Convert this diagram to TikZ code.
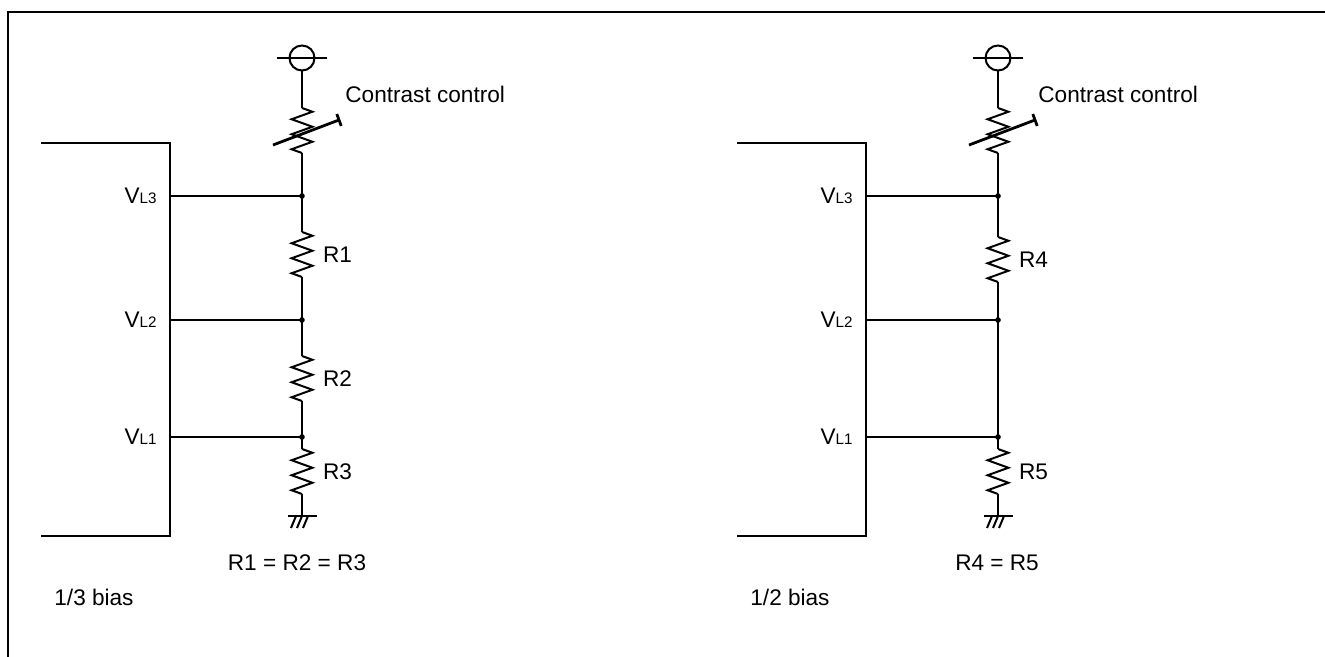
\documentclass[tikz,border=0pt]{standalone}
\usepackage{fontspec}
\setmainfont{Liberation Sans}
\usetikzlibrary{positioning,decorations.pathmorphing}
\tikzset{
    frame/.style={line width=1.2pt},
    wire/.style={line width=1pt},
    resist/.style={wire, decorate, decoration={zigzag, segment length=7.5pt, amplitude=5.2pt}},
    knob/.style={line width=1.4pt},
    pwr/.style={draw, wire, circle, minimum size=12.5pt, inner sep=0pt},
    jdot/.style={circle, fill, inner sep=0pt, minimum size=2.8pt},
    lbl/.style={font=\fontsize{11.3}{13}\selectfont, inner sep=0pt},
}
\newcommand{\vlev}[1]{V{\fontsize{7.6}{8}\selectfont L#1}}
\begin{document}
\begin{tikzpicture}[x=0.5pt,y=-0.5pt]
\useasboundingbox (0,0) rectangle (1325,657);
\draw[frame] (8,657) -- (8,12) -- (1325,12);

% 1/3 bias
\draw[wire] (41,143) -- (170,143) -- (170,536) -- (41,536);
\coordinate (icL3) at (170,196);
\coordinate (icL2) at (170,320);
\coordinate (icL1) at (170,437);
\node[lbl, left=6.5pt of icL3] (vL3) {\vlev{3}};
\node[lbl, left=6.5pt of icL2] (vL2) {\vlev{2}};
\node[lbl, left=6.5pt of icL1] (vL1) {\vlev{1}};
\node[pwr] (pwrL) at (302,58) {};
\draw[wire] ([xshift=-5.8pt]pwrL.west) -- ([xshift=5.8pt]pwrL.east);
\coordinate (vrLa) at (302,108);
\coordinate (vrLb) at (302,153);
\node[jdot] (jL3) at (302,196) {};
\node[jdot] (jL2) at (302,320) {};
\node[jdot] (jL1) at (302,437) {};
\coordinate (r1a) at (302,232);
\coordinate (r1b) at (302,277);
\coordinate (r2a) at (302,356);
\coordinate (r2b) at (302,401);
\coordinate (r3a) at (302,449);
\coordinate (r3b) at (302,494);
\coordinate (gndL) at (302,516);
\draw[wire] (pwrL.south) -- (vrLa);
\draw[resist] (vrLa) -- (vrLb);
\draw[wire] (vrLb) -- (jL3.center) -- (r1a);
\draw[resist] (r1a) -- node[lbl, right=10pt] (R1) {R1} (r1b);
\draw[wire] (r1b) -- (jL2.center) -- (r2a);
\draw[resist] (r2a) -- node[lbl, right=10pt] (R2) {R2} (r2b);
\draw[wire] (r2b) -- (jL1.center) -- (r3a);
\draw[resist] (r3a) -- node[lbl, right=10pt] (R3) {R3} (r3b);
\draw[wire] (r3b) -- (gndL);
\draw[wire] (icL3) -- (jL3.center);
\draw[wire] (icL2) -- (jL2.center);
\draw[wire] (icL1) -- (jL1.center);
% contrast knob and ground
\coordinate (knLa) at (273,145);
\coordinate (knLb) at (339,120);
\draw[knob] (knLa) -- (knLb) ++(-2.2,-6) -- ++(4.4,12);
\draw[wire] (gndL) ++(-14,0) -- ++(29,0);
\draw[wire] (gndL) ++(-6,0) -- ++(-5,12);
\draw[wire] (gndL) ++(0,0) -- ++(-5,12);
\draw[wire] (gndL) ++(6,0) -- ++(-5,12);
\node[lbl, anchor=west] (ccL) at (345,94) {Contrast control};
\node[lbl] (eqL) at (297,563) {R1 = R2 = R3};
\node[lbl, anchor=west] (biasL) at (54,597) {1/3 bias};

% 1/2 bias
\draw[wire] (737,143) -- (866,143) -- (866,536) -- (737,536);
\coordinate (icR3) at (866,196);
\coordinate (icR2) at (866,320);
\coordinate (icR1) at (866,437);
\node[lbl, left=6.5pt of icR3] (vR3) {\vlev{3}};
\node[lbl, left=6.5pt of icR2] (vR2) {\vlev{2}};
\node[lbl, left=6.5pt of icR1] (vR1) {\vlev{1}};
\node[pwr] (pwrR) at (998,58) {};
\draw[wire] ([xshift=-5.8pt]pwrR.west) -- ([xshift=5.8pt]pwrR.east);
\coordinate (vrRa) at (998,108);
\coordinate (vrRb) at (998,153);
\node[jdot] (jR3) at (998,196) {};
\node[jdot] (jR2) at (998,320) {};
\node[jdot] (jR1) at (998,437) {};
\coordinate (r4a) at (998,237);
\coordinate (r4b) at (998,282);
\coordinate (r5a) at (998,449);
\coordinate (r5b) at (998,494);
\coordinate (gndR) at (998,516);
\draw[wire] (pwrR.south) -- (vrRa);
\draw[resist] (vrRa) -- (vrRb);
\draw[wire] (vrRb) -- (jR3.center) -- (r4a);
\draw[resist] (r4a) -- node[lbl, right=10pt] (R4) {R4} (r4b);
\draw[wire] (r4b) -- (jR2.center) -- (jR1.center) -- (r5a);
\draw[resist] (r5a) -- node[lbl, right=10pt] (R5) {R5} (r5b);
\draw[wire] (r5b) -- (gndR);
\draw[wire] (icR3) -- (jR3.center);
\draw[wire] (icR2) -- (jR2.center);
\draw[wire] (icR1) -- (jR1.center);
% contrast knob and ground
\coordinate (knRa) at (969,145);
\coordinate (knRb) at (1035,120);
\draw[knob] (knRa) -- (knRb) ++(-2.2,-6) -- ++(4.4,12);
\draw[wire] (gndR) ++(-14,0) -- ++(29,0);
\draw[wire] (gndR) ++(-6,0) -- ++(-5,12);
\draw[wire] (gndR) ++(0,0) -- ++(-5,12);
\draw[wire] (gndR) ++(6,0) -- ++(-5,12);
\node[lbl, anchor=west] (ccR) at (1038,94) {Contrast control};
\node[lbl] (eqR) at (997,563) {R4 = R5};
\node[lbl, anchor=west] (biasR) at (750,597) {1/2 bias};
\end{tikzpicture}
\end{document}
